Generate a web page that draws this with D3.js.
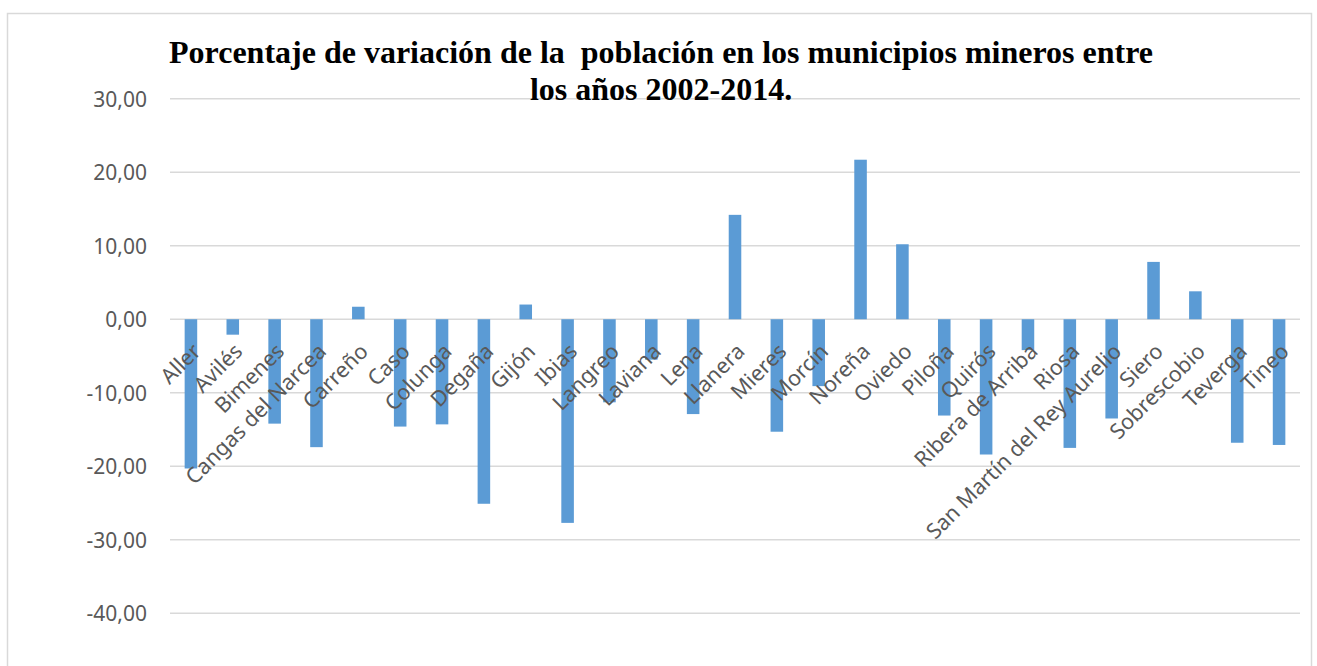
<!DOCTYPE html>
<html><head><meta charset="utf-8">
<script src="https://cdn.jsdelivr.net/npm/d3@7"></script>
<style>body{margin:0;background:#fff}svg{display:block}</style>
</head><body>
<svg id="c" width="1317" height="666"></svg>
<script>
const categories = ["Aller","Avilés","Bimenes","Cangas del Narcea","Carreño","Caso","Colunga","Degaña","Gijón","Ibias","Langreo","Laviana","Lena","Llanera","Mieres","Morcín","Noreña","Oviedo","Piloña","Quirós","Ribera de Arriba","Riosa","San Martín del Rey Aurelio","Siero","Sobrescobio","Teverga","Tineo"];
const values = [-20.3,-2.1,-14.2,-17.4,1.7,-14.6,-14.3,-25.1,2.0,-27.7,-11.3,-5.5,-12.9,14.2,-15.3,-9.1,21.7,10.2,-13.1,-18.4,-4.2,-17.5,-13.5,7.8,3.8,-16.8,-17.1];
const yTicks = [-40,-30,-20,-10,0,10,20,30];
const titleLines = ["Porcentaje de variación de la  población en los municipios mineros entre","los años 2002-2014."];

const svg = d3.select("#c");
svg.append("rect").attr("x",7.5).attr("y",13.5).attr("width",1304).attr("height",700)
  .attr("fill","#fff").attr("stroke","#d9d9d9").attr("stroke-width",1.5);

const x = d3.scaleBand().domain(categories).range([170,1300]).paddingInner(0.7).paddingOuter(0.35);
const y = d3.scaleLinear().domain([-40,30]).range([613.3,98.7]);

const fmt = v => d3.format(".2f")(v).replace(".",",").replace("\u2212","-");

// gridlines
svg.append("g").selectAll("line").data(yTicks).join("line")
  .attr("x1",170).attr("x2",1300).attr("y1",d=>y(d)).attr("y2",d=>y(d))
  .attr("stroke","#d9d9d9").attr("stroke-width",1.5);

// y axis
const yAxis = d3.axisLeft(y).tickValues(yTicks).tickFormat(fmt).tickSize(0).tickPadding(0);
const ga = svg.append("g").attr("transform","translate(147,0)").call(yAxis);
ga.select(".domain").remove();
ga.selectAll("text").attr("font-family","Noto Sans").attr("font-size",21).attr("fill","#595959").attr("dy","0.35em");

// bars
svg.append("g").selectAll("rect").data(values).join("rect")
  .attr("x",(d,i)=>x(categories[i])).attr("width",x.bandwidth())
  .attr("y",d=>y(Math.max(0,d))).attr("height",d=>Math.abs(y(d)-y(0)))
  .attr("fill","#5b9bd5");

// category labels
svg.append("g").selectAll("text").data(categories).join("text")
  .attr("transform",d=>`translate(${x(d)+x.bandwidth()/2+11},${y(0)+33.5}) rotate(-45)`)
  .attr("text-anchor","end")
  .attr("font-family","Noto Sans").attr("font-size",21.5).attr("fill","#595959")
  .text(d=>d);

// title
svg.append("g").selectAll("text").data(titleLines).join("text")
  .attr("x",661).attr("y",(d,i)=>63+i*37).attr("text-anchor","middle")
  .style("white-space","pre")
  .attr("font-family","Liberation Serif").attr("font-weight","bold").attr("font-size",32).attr("fill","#000")
  .text(d=>d);
</script>
</body></html>
